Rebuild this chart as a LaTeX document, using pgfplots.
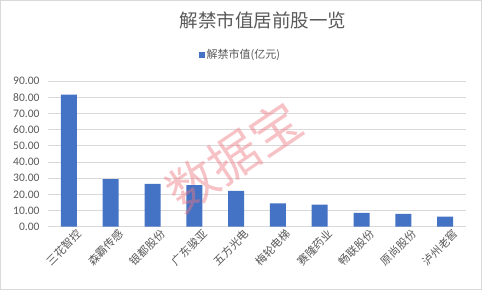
\documentclass[border=0pt]{standalone}
\usepackage{pgfplots}
\pgfplotsset{compat=1.18}
\usepackage{fontspec}
\setmainfont{Carlito}
\newfontfamily\cjk{Noto Sans CJK SC}
\newfontfamily\cjklight{Noto Sans CJK SC Light}
\definecolor{barblue}{HTML}{4472C4}
\definecolor{txtgray}{HTML}{595959}
\definecolor{gridgray}{HTML}{D9D9D9}
\definecolor{wmpink}{RGB}{238,120,130}
\begin{document}
\begin{tikzpicture}[x=1pt,y=1pt]
\path[draw=gridgray,fill=white,line width=1pt] (0.5,0.5) rectangle (481.5,289.5);
\node[text=txtgray,font=\cjk\fontsize{18.5}{20}\selectfont] at (263,270) {解禁市值居前股一览};
\begin{axis}[
  at={(48pt,63.3pt)}, anchor=south west,
  scale only axis, width=418pt, height=145.5pt,
  ymin=0, ymax=90, ytick={0,10,...,90},
  xmin=-0.5, xmax=9.5, xtick={0,...,9},
  xticklabels={三花智控,森霸传感,银都股份,广东骏亚,五方光电,梅轮电梯,赛隆药业,畅联股份,原尚股份,泸州老窖},
  x tick label style={font=\cjk\fontsize{11}{12}\selectfont, rotate=45, anchor=north east, text=txtgray, inner sep=1pt, xshift=5pt, yshift=-5pt},
  y tick label style={font=\fontsize{11.5}{13}\selectfont, text=txtgray, xshift=-5pt},
  /pgf/number format/assume math mode=true,
  yticklabel={\pgfmathprintnumber[fixed,fixed zerofill,precision=2]{\tick}},
  ymajorgrids, grid style={gridgray, line width=0.8pt},
  axis line style={draw=none}, axis x line*=bottom,
  x axis line style={draw=gridgray, line width=0.8pt},
  major tick length=0pt,
  ybar, bar width=16pt,
  legend style={at={(0.46,1.18)}, anchor=center, draw=none, fill=none, font=\cjk\fontsize{11}{12}\selectfont, text=txtgray},
  legend image code/.code={\fill[barblue] (0pt,-3pt) rectangle (6pt,3pt);},
  clip=false,
]
\addplot[fill=barblue, draw=none] coordinates {(0,81.7) (1,29.4) (2,26.5) (3,25.7) (4,22.2) (5,14.5) (6,13.7) (7,8.5) (8,7.9) (9,6.2)};
\addlegendentry{解禁市值(亿元)}
\end{axis}
\node[rotate=34, text=wmpink, opacity=0.45, font=\cjk\fontsize{50}{54}\selectfont] at (234,133) {数据宝};
\end{tikzpicture}
\end{document}
